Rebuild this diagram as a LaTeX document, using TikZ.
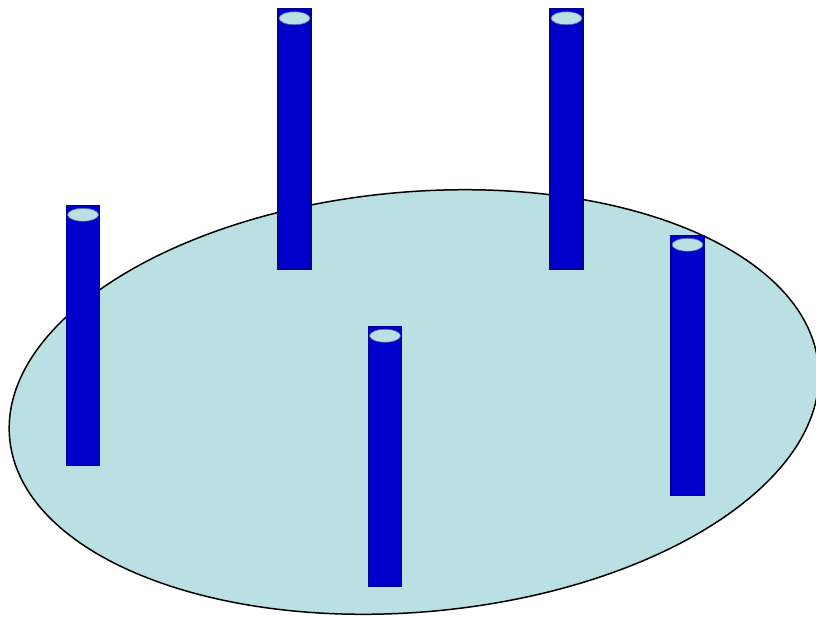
\documentclass[tikz,border=0pt]{standalone}
\usepackage{tikz}
\usetikzlibrary{shapes.geometric, positioning}

\definecolor{platecol}{RGB}{187,224,227}
\definecolor{pillarcol}{RGB}{0,0,204}
\definecolor{pillaredge}{RGB}{0,0,150}

\begin{document}
\begin{tikzpicture}[
        x=1pt, y=-1pt,
        % Define styles for the plate, the pillars and their caps
        plate/.style={draw, ellipse, line width=1.5pt, fill=platecol, inner sep=0pt, minimum width=812pt, minimum height=420pt},
        pillar/.style={draw=pillaredge, rectangle, line width=1.5pt, fill=pillarcol, inner sep=0pt, minimum width=33pt, minimum height=260pt},
        pillarcap/.style={draw=pillaredge!60!platecol, ellipse, line width=0.6pt, fill=platecol, inner sep=0pt, minimum width=31pt, minimum height=13pt}
    ]
    \useasboundingbox (0,0) rectangle (816,616);

    % Draw the tilted plate
    \node[plate, rotate=5.1] (base) at (414,402) {};

    % Draw the pillars
    \node[pillar] (left) at (83,335.5) {};
    \node[pillar] (backleft) at (294.5,139) {};
    \node[pillar] (backright) at (566.5,139) {};
    \node[pillar] (right) at (687.5,365.5) {};
    \node[pillar] (front) at (385,456.5) {};

    % Draw the caps on top of each pillar
    \foreach \p in {left, backleft, backright, right, front}
        \node[pillarcap] (\p cap) at ([yshift=-10pt]\p.north) {};

\end{tikzpicture}
\end{document}
